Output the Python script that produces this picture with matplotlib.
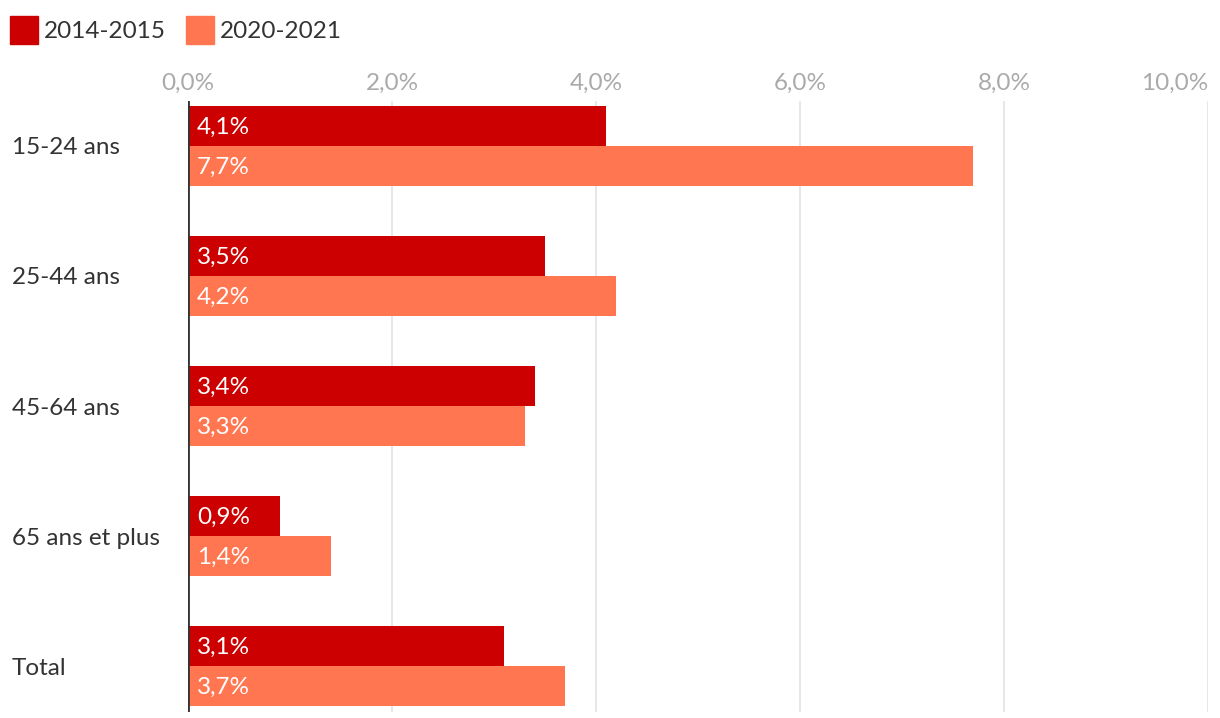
import numpy as np
import matplotlib.pyplot as plt
from matplotlib.patches import Rectangle

plt.rcParams['font.family'] = ['Lato', 'DejaVu Sans']

### DATA ###

categories = ['15-24 ans', '25-44 ans', '45-64 ans', '65 ans et plus', 'Total']
series_names = ['2014-2015', '2020-2021']
v2014 = [4.1, 3.5, 3.4, 0.9, 3.1]
v2020 = [7.7, 4.2, 3.3, 1.4, 3.7]
xticks = [0, 2, 4, 6, 8, 10]

colors = ['#cc0000', '#ff7650']
fs = 17.5

def fr(v):
    return ('%.1f%%' % v).replace('.', ',')

### PLOT ###

W, H = 1220, 718
fig = plt.figure(figsize=(W / 100, H / 100), dpi=100)
ax = fig.add_axes([188 / W, 1 - 711.5 / H, 1020 / W, 611 / H])

y = np.arange(len(categories))
h = 40 / 130
ax.barh(y - h / 2, v2014, height=h, color=colors[0], zorder=2)
ax.barh(y + h / 2, v2020, height=h, color=colors[1], zorder=2)

for yi, a, b in zip(y, v2014, v2020):
    ax.text(0.09, yi - h / 2 + 0.01, fr(a), color='white', fontsize=fs, va='center', ha='left', zorder=3)
    ax.text(0.09, yi + h / 2 + 0.01, fr(b), color='white', fontsize=fs, va='center', ha='left', zorder=3)

ax.set_xlim(0, 10)
ax.set_ylim(len(categories) - 1 + 0.35, -0.35)
for t in xticks[1:]:
    ax.axvline(t, color='#e3e3e3', lw=1.2, zorder=1)
ax.axvline(0, color='#333333', lw=2, zorder=4)

for s in ax.spines.values():
    s.set_visible(False)
ax.set_yticks([])
ax.xaxis.tick_top()
ax.set_xticks(xticks)
ax.set_xticklabels([fr(t) for t in xticks], color='#aaaaaa', fontsize=fs)
ax.get_xticklabels()[-1].set_ha('right')
ax.tick_params(axis='x', length=0, pad=5)

for yi, c in zip(y, categories):
    ax.text(12 / W, ax.transData.transform((0, yi))[1] / H - 2 / H, c, transform=fig.transFigure,
            fontsize=fs, color='#333333', va='center', ha='left')

# legend
lx = 10
for name, col in zip(series_names, colors):
    fig.patches.append(Rectangle((lx / W, 1 - 44 / H), 28 / W, 28 / H, color=col,
                                 transform=fig.transFigure, figure=fig))
    t = fig.text((lx + 34) / W, 1 - 32 / H, name, fontsize=fs, color='#333333', va='center', ha='left')
    fig.canvas.draw()
    bb = t.get_window_extent()
    lx = bb.x1 + 20

fig.savefig('out.png', dpi=100)
